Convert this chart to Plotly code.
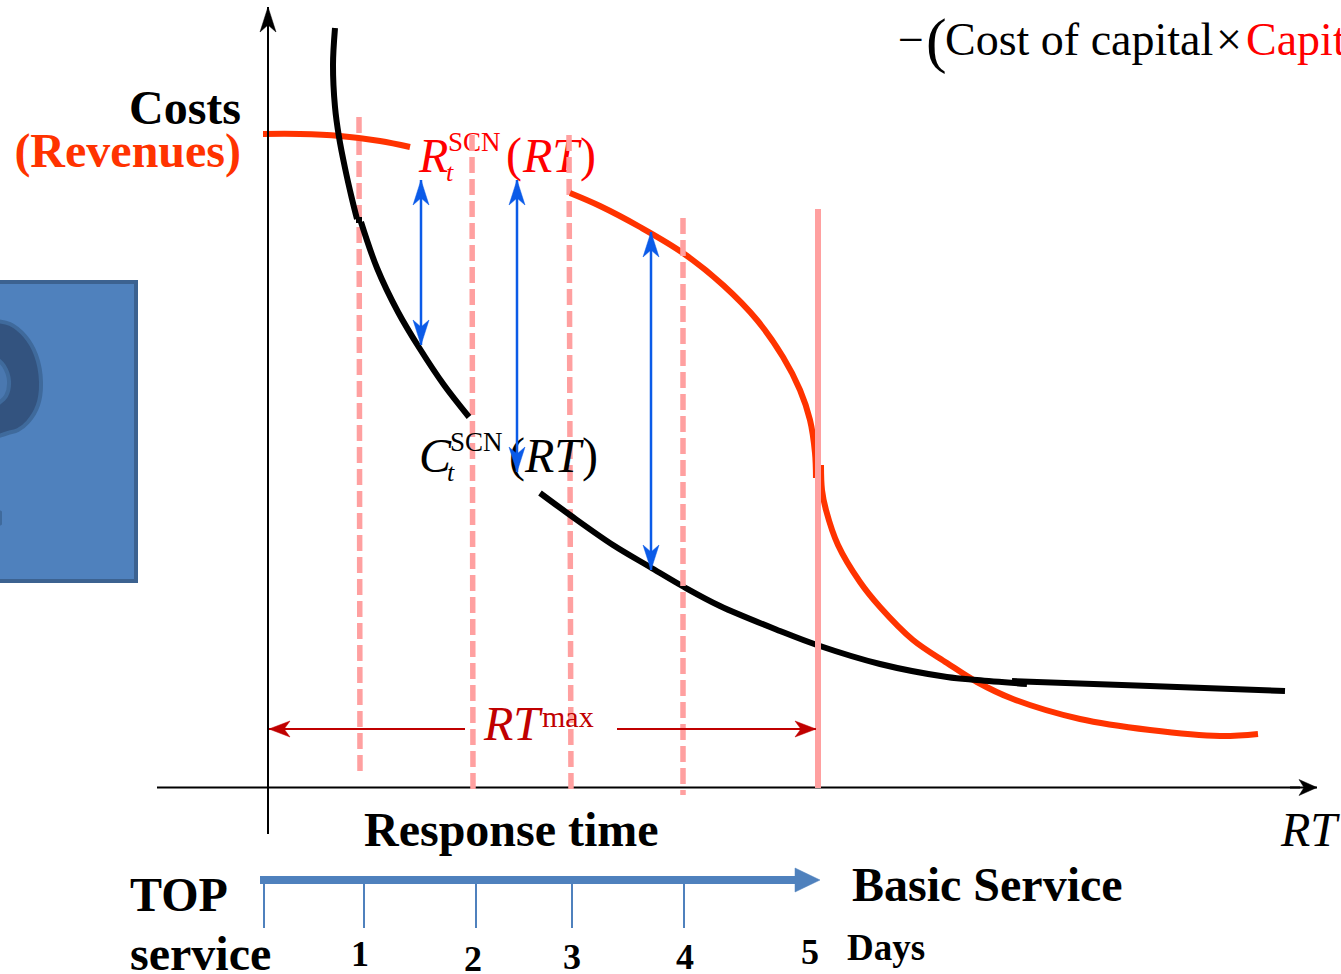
import plotly.graph_objects as go

# Diagram canvas: one unit on either axis is one screen pixel, y grows downwards.
PAGE_W, PAGE_H = 1341, 974

# Revenue curve R(RT), broken where its label sits and stepping at RT max
revenue_head_x = [263, 300, 340, 380, 410]
revenue_head_y = [134, 134, 136, 141, 147]
revenue_mid_x = [570, 600, 640, 683, 723, 757, 783, 800, 810, 815, 816]
revenue_mid_y = [193, 206, 227, 253, 285, 320, 357, 390, 420, 453, 478]
revenue_tail_x = [821, 822, 826, 838, 860, 880, 913, 947, 977, 1013, 1080, 1150, 1220, 1258]
revenue_tail_y = [465, 490, 510, 545, 582, 607, 640, 663, 682, 699, 719, 730, 736, 734]

# Cost curve C(RT), broken where its label sits
cost_top_x = [335, 333, 335, 339, 345, 352, 357]
cost_top_y = [28, 65, 107, 137, 168, 199, 219]
cost_step_x = [356, 362]
cost_step_y = [220, 220]
cost_mid_x = [361, 377, 398, 420, 444, 469]
cost_mid_y = [222, 268, 312, 349, 385, 417]
cost_tail_x = [540, 570, 613, 650, 684, 720, 780, 817, 880, 947, 977, 1027]
cost_tail_y = [493, 515, 545, 567, 587, 606, 631, 645, 664, 677, 680, 684]
cost_flat_x = [1012, 1150, 1285]
cost_flat_y = [681, 686, 691]

# Response-time levels and how far each guide reaches
guide_top_x = [359, 472, 569, 683]
guide_bottom_x = [360, 473, 571, 683]
guide_top = [117, 135, 135, 218]
guide_bottom = [772, 790, 790, 795]
rt_max_x = 818
rt_max_top = 209

# Margin arrows between the two curves: x, top, bottom
margin_x = [421, 517, 651]
margin_top = [180, 180, 232]
margin_bottom = [345, 472, 570]

# Service scale under the axis
day_tick_x = [264, 364, 476, 572, 684]
day_labels = ["1", "2", "3", "4", "5"]
day_label_x = [360, 473, 572, 685, 810]
day_label_y = [957, 962, 960, 960, 955]

BLUE = "#4F81BD"
PINK = "#FFA0A0"
ORANGE = "#FF3300"
RED = "#FF0000"
DARK_RED = "#C00000"
ARROW_BLUE = "#0B5BE8"
SERIF = "Liberation Serif"

fig = go.Figure()


def curve(xs, ys, color, width, dash=None, smooth=True):
    fig.add_trace(go.Scatter(
        x=xs, y=ys, mode="lines",
        line=dict(color=color, width=width, dash=dash,
                  shape="spline" if smooth else "linear", smoothing=1.0),
    ))


def polygon(xs, ys, color):
    fig.add_trace(go.Scatter(
        x=xs, y=ys, mode="lines", fill="toself", fillcolor=color,
        line=dict(color=color, width=0.5),
    ))


def label(x, y, text, size, color="#000000", bold=False, italic=False, pos="middle right"):
    if italic:
        text = f"<i>{text}</i>"
    fig.add_trace(go.Scatter(
        x=[x], y=[y], mode="text", text=[text], textposition=pos,
        textfont=dict(family=SERIF, size=size, color=color,
                      weight="bold" if bold else "normal"),
    ))


def barb(x, y, dx, dy, color, length, half, notch=0.72):
    # Barbed head with its tip at (x, y), pointing along the unit vector (dx, dy)
    px, py = -dy, dx
    bx, by = x - dx * length, y - dy * length
    nx, ny = x - dx * length * notch, y - dy * length * notch
    polygon([x, bx + px * half, nx, bx - px * half, x],
            [y, by + py * half, ny, by - py * half, y], color)


def arrow(x0, y0, x1, y1, color, width, length, half, both=False):
    curve([x0, x1], [y0, y1], color, width, smooth=False)
    span = max(abs(x1 - x0), abs(y1 - y0))
    dx, dy = (x1 - x0) / span, (y1 - y0) / span
    barb(x1, y1, dx, dy, color, length, half)
    if both:
        barb(x0, y0, -dx, -dy, color, length, half)


def guide(i):
    curve([guide_top_x[i], guide_bottom_x[i]], [guide_top[i], guide_bottom[i]],
          PINK, 5.5, dash="16px,6px", smooth=False)


# Blue panel with the clipped question mark
curve([-6, 136, 136, -6, -6], [282, 282, 581, 581, 282], "#3C6290", 4, smooth=False)
fig.data[-1].update(fill="toself", fillcolor=BLUE)
qmark_outer_x = [-4, 10, 25, 36, 41, 38, 28, 18, 8, -4]
qmark_outer_y = [321, 324, 336, 355, 382, 405, 422, 430, 433, 437]
curve(qmark_outer_x, qmark_outer_y, "#3F6A9C", 4)
fig.data[-1].update(fill="toself", fillcolor="#33537F")
qmark_hole_x = [-4, 4, 9, 6, -4]
qmark_hole_y = [358, 366, 381, 396, 405]
curve(qmark_hole_x, qmark_hole_y, "#3F6A9C", 4)
fig.data[-1].update(fill="toself", fillcolor="#4A78B0")
curve([-6, 1, 1, -6, -6], [508, 512, 524, 528, 508], "#3F6A9C", 2, smooth=False)
fig.data[-1].update(fill="toself", fillcolor="#33537F")

# Red curve label sits beneath the guides
label(419, 160, "R", 48, RED, italic=True)
label(446, 174, "t", 26, RED, italic=True)
label(448, 144, "SCN", 27, RED)
label(506, 159, "(", 48, RED)
label(523, 160, "RT", 48, RED, italic=True)
label(580, 159, ")", 48, RED)

# Guides, then curves
curve([157, 1300], [787.5, 787.5], "#000000", 2, smooth=False)
for i in range(3):
    guide(i)

curve(revenue_head_x, revenue_head_y, ORANGE, 6)
curve(revenue_mid_x, revenue_mid_y, ORANGE, 6)
curve(revenue_tail_x, revenue_tail_y, ORANGE, 6)
curve(cost_top_x, cost_top_y, "#000000", 6)
curve(cost_step_x, cost_step_y, "#000000", 6, smooth=False)
curve(cost_mid_x, cost_mid_y, "#000000", 6)
curve(cost_tail_x, cost_tail_y, "#000000", 6)
curve(cost_flat_x, cost_flat_y, "#000000", 6)

guide(3)
curve([rt_max_x] * 2, [rt_max_top, 788], PINK, 6, smooth=False)

# Cost curve label and RT max marker
label(419, 460, "C", 48, "#000000", italic=True)
label(447, 474, "t", 26, "#000000", italic=True)
label(450, 444, "SCN", 27)
label(509, 459, "(", 48)
label(525, 460, "RT", 48, italic=True)
label(582, 459, ")", 48)
label(484, 728, "RT", 48, DARK_RED, italic=True)
label(542, 719, "max", 30, DARK_RED)

# Axis titles and side notes
label(241, 112, "Costs", 48, bold=True, pos="middle left")
label(241, 155, "(Revenues)", 48, ORANGE, bold=True, pos="middle left")
label(364, 834, "Response time", 48, bold=True)
label(1281, 834, "RT", 48, italic=True)
label(130, 899, "TOP", 48, bold=True)
label(130, 958, "service", 48, bold=True)
label(852, 889, "Basic Service", 48, bold=True)
label(847, 951, "Days", 37, bold=True)

# Cost of capital term running off the page edge
label(898, 43, "−", 46)
label(926, 45, "(", 62)
label(945, 43, "Cost of capital", 46)
label(1216, 43, "×", 46)
label(1246, 43, "Capital", 46, RED)

# Service scale: thick arrow, ticks, day numbers
curve([260, 796], [880, 880], BLUE, 8, smooth=False)
polygon([795, 820, 795, 795], [868, 880, 892, 868], BLUE)
for tx in day_tick_x:
    curve([tx, tx], [884, 928], BLUE, 2, smooth=False)
for lx, ly, txt in zip(day_label_x, day_label_y, day_labels):
    label(lx, ly, txt, 36, bold=True, pos="middle center")

# Axis arrows
arrow(268, 834, 268, 7, "#000000", 2, 25, 8)
arrow(1290, 787.5, 1317, 787.5, "#000000", 2, 18, 8)

# Margin arrows between revenue and cost
for mx, top, bottom in zip(margin_x, margin_top, margin_bottom):
    arrow(mx, bottom, mx, top, ARROW_BLUE, 2.5, 25, 8, both=True)

# RT max span
arrow(465, 729, 269, 729, DARK_RED, 2, 21, 8)
arrow(617, 729, 816, 729, DARK_RED, 2, 21, 8)

fig.update_layout(
    width=PAGE_W, height=PAGE_H, showlegend=False,
    margin=dict(l=0, r=0, t=0, b=0),
    paper_bgcolor="#FFFFFF", plot_bgcolor="#FFFFFF",
    xaxis=dict(range=[0, PAGE_W], visible=False),
    yaxis=dict(range=[PAGE_H, 0], visible=False),
)
fig.write_html("out.html", config=dict(displayModeBar=False))
